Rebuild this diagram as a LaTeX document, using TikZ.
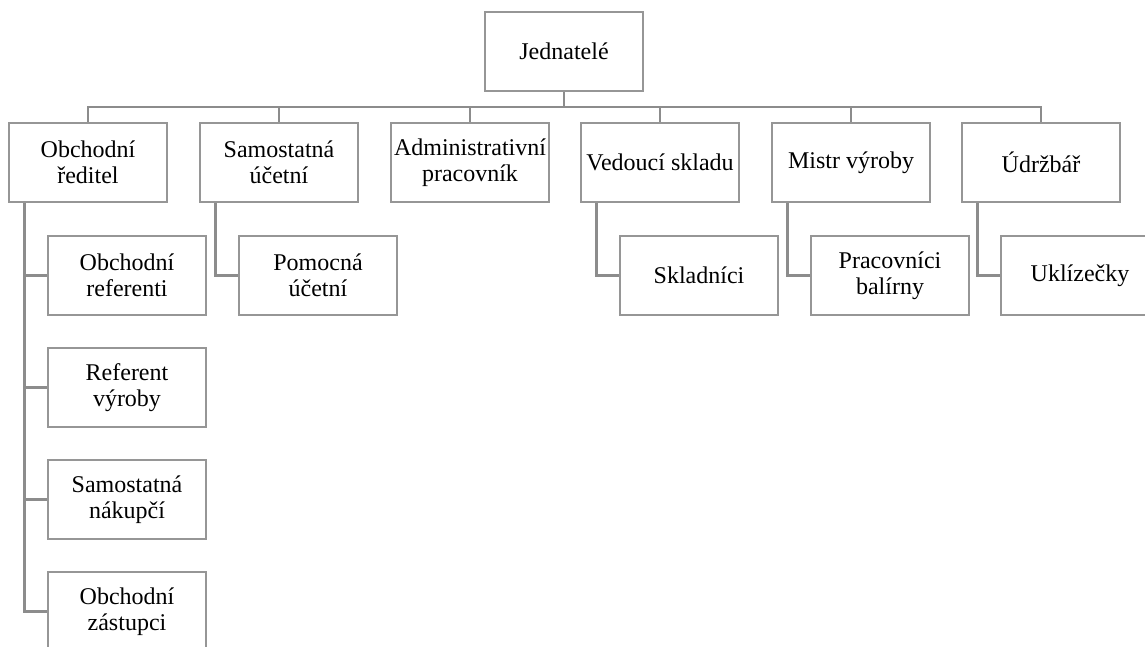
\documentclass[tikz,border=0pt]{standalone}
\usepackage{fontspec}
\setmainfont{Liberation Serif}
\definecolor{boxgray}{RGB}{150,150,150}
\definecolor{linegray}{RGB}{140,140,140}
\tikzset{
  orgbox/.style={draw=boxgray, line width=1.1pt, fill=white, minimum width=158pt, minimum height=79pt,
    inner sep=0pt, align=center, font=\fontsize{24}{25.5}\selectfont},
  conn/.style={draw=linegray, line width=2.3pt},
}
\begin{document}
\begin{tikzpicture}[x=1pt,y=-1pt]
\useasboundingbox (0,0) rectangle (1145,646);
\clip (0,0) rectangle (1145,646);
\fill[white] (0,0) rectangle (1145,646);

\coordinate (bus) at (564,107);

% connectors first
\node[orgbox, draw=none, fill=none] (J) at (564,51.5) {\phantom{J}};
\node[orgbox, draw=none, fill=none] (A) at (88,162.5) {\phantom{A}};
\node[orgbox, draw=none, fill=none] (B) at (279,162.5) {\phantom{B}};
\node[orgbox, draw=none, fill=none] (C) at (470,162.5) {\phantom{C}};
\node[orgbox, draw=none, fill=none] (D) at (660,162.5) {\phantom{D}};
\node[orgbox, draw=none, fill=none] (E) at (851,162.5) {\phantom{E}};
\node[orgbox, draw=none, fill=none] (F) at (1041,162.5) {\phantom{F}};

\node[orgbox] (A1) at (127,275.5) {Obchodní\\referenti};
\node[orgbox] (A2) at (127,387.5) {Referent\\výroby};
\node[orgbox] (A3) at (127,499.5) {Samostatná\\nákupčí};
\node[orgbox] (A4) at (127,611.5) {Obchodní\\zástupci};
\node[orgbox] (B1) at (318,275.5) {Pomocná\\účetní};
\node[orgbox] (D1) at (699,275.5) {Skladníci};
\node[orgbox] (E1) at (890,275.5) {Pracovníci\\balírny};
\node[orgbox] (F1) at (1080,275.5) {Uklízečky};

\draw[conn] (J.south) -- (bus);
\draw[conn] (A.north) |- (bus) -| (F.north);
\draw[conn] (B.north) -- (B.north |- bus);
\draw[conn] (C.north) -- (C.north |- bus);
\draw[conn] (D.north) -- (D.north |- bus);
\draw[conn] (E.north) -- (E.north |- bus);

\draw[conn] ([xshift=16pt]A.south west) |- (A4.west);
\draw[conn] ([xshift=16pt]A.south west) |- (A1.west);
\draw[conn] ([xshift=16pt]A.south west) |- (A2.west);
\draw[conn] ([xshift=16pt]A.south west) |- (A3.west);
\draw[conn] ([xshift=16pt]B.south west) |- (B1.west);
\draw[conn] ([xshift=16pt]D.south west) |- (D1.west);
\draw[conn] ([xshift=16pt]E.south west) |- (E1.west);
\draw[conn] ([xshift=16pt]F.south west) |- (F1.west);

% boxes on top
\node[orgbox] (Jb) at (J) {Jednatelé};
\node[orgbox] (Ab) at (A) {Obchodní\\ředitel};
\node[orgbox] (Bb) at (B) {Samostatná\\účetní};
\node[orgbox] (Cb) at (C) {Administrativní\\pracovník};
\node[orgbox] (Db) at (D) {Vedoucí skladu};
\node[orgbox] (Eb) at (E) {Mistr výroby};
\node[orgbox] (Fb) at (F) {Údržbář};
\node[orgbox] (A1b) at (A1) {Obchodní\\referenti};
\node[orgbox] (A2b) at (A2) {Referent\\výroby};
\node[orgbox] (A3b) at (A3) {Samostatná\\nákupčí};
\node[orgbox] (A4b) at (A4) {Obchodní\\zástupci};
\node[orgbox] (B1b) at (B1) {Pomocná\\účetní};
\node[orgbox] (D1b) at (D1) {Skladníci};
\node[orgbox] (E1b) at (E1) {Pracovníci\\balírny};
\node[orgbox] (F1b) at (F1) {Uklízečky};
\end{tikzpicture}
\end{document}
